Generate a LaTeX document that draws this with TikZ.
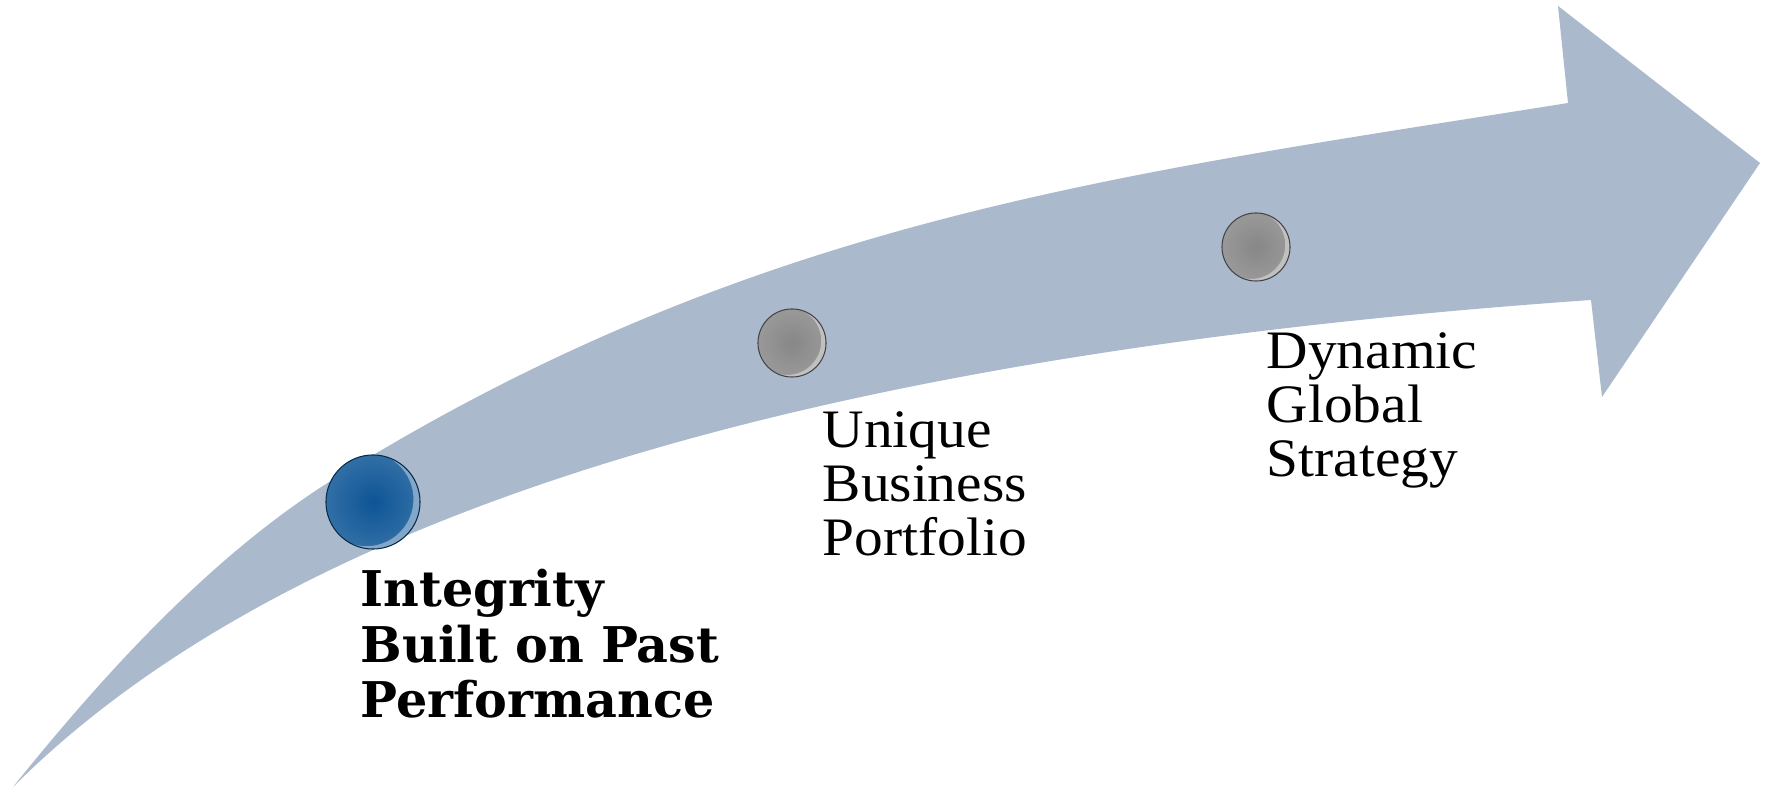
\documentclass[tikz,border=0pt]{standalone}
\usepackage{fontspec}
\usepackage{xcolor}
\newfontfamily\plainlbl[FakeStretch=1.06]{Liberation Serif}
\newfontfamily\heavylbl{DejaVu Serif}
\definecolor{bandblue}{HTML}{AAB9CC}
\definecolor{beadblue}{HTML}{0D5596}
\definecolor{beadgray}{HTML}{878787}
\tikzset{
  bead/.style 2 args={circle, minimum size=#2, inner sep=0pt, draw=#1!50!black, line width=0.3pt,
    inner color=#1, outer color=#1!85!white,
    path picture={\fill[white, opacity=0.4, even odd rule]
      (path picture bounding box.center) circle (#2/2)
      ([xshift=-0.07*#2, yshift=0.03*#2]path picture bounding box.center) circle (#2/2);}},
  lbl/.style={anchor=base west, align=left, inner sep=0pt, font=\plainlbl\fontsize{15.4}{15.4}\selectfont},
  heavylbl/.style={lbl, font=\heavylbl\bfseries\fontsize{14}{15.8}\selectfont}
}
\begin{document}
\begin{tikzpicture}[x=0.01cm, y=0.01cm]
  \useasboundingbox (0,0) rectangle (1766,-789);
  \coordinate (tail) at (13,-787);
  \coordinate (bend) at (337,-477);
  \coordinate (notchtop) at (1568,-103);
  \coordinate (headtop) at (1558,-6);
  \coordinate (tip) at (1760,-163);
  \coordinate (headbot) at (1602,-397);
  \coordinate (notchbot) at (1591,-300);
  \fill [bandblue] (tail) .. controls (123,-650) and (227,-545) .. (bend)
    .. controls (757,-217) and (1118,-175) .. (notchtop)
    -- (headtop) -- (tip) -- (headbot) -- (notchbot)
    .. controls (891,-349) and (313,-487) .. (tail) -- cycle;
  \node [bead={beadblue}{0.94cm}] (past) at (373,-502) {};
  \node [bead={beadgray}{0.68cm}] (unique) at (792,-343) {};
  \node [bead={beadgray}{0.68cm}] (global) at (1256,-247) {};
  \node [heavylbl] (pastlbl) at (360,-718) {Integrity\\Built on Past\\Performance};
  \node [lbl] (uniquelbl) at (822,-556) {Unique\\Business\\Portfolio};
  \node [lbl] (globallbl) at (1266,-477) {Dynamic\\Global\\Strategy};
\end{tikzpicture}
\end{document}
